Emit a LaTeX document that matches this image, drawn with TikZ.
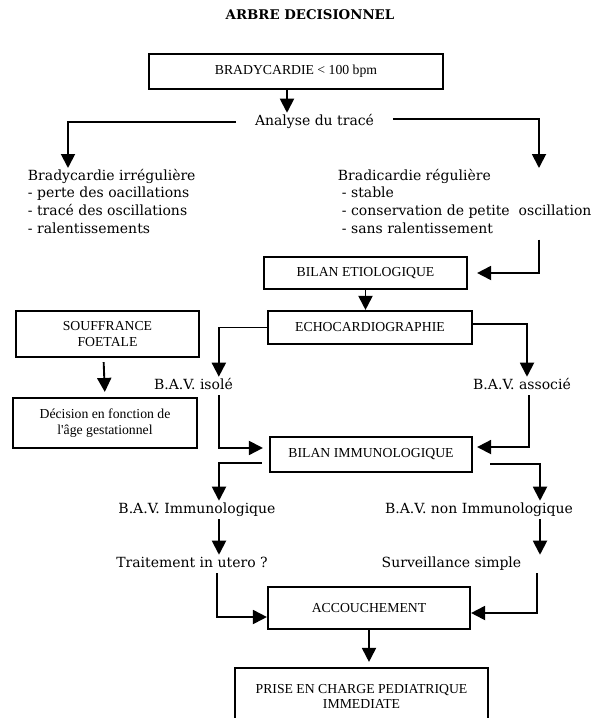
\documentclass[tikz,border=0pt]{standalone}
\usepackage{fontspec}
\setmainfont{DejaVu Serif}
\newfontfamily\boxfont{Liberation Serif}
\usetikzlibrary{arrows.meta}

\begin{document}
\begin{tikzpicture}[x=0.75pt,y=-0.75pt,>={Triangle[length=10.5pt,width=10.5pt]},line width=1.4pt,
  box/.style={draw,line width=1.6pt,align=center,inner sep=1pt,font=\boxfont\fontsize{10.3}{11.5}\selectfont},
  txt/.style={inner sep=1pt,text height=8pt,text depth=2.5pt,font=\fontsize{10.5}{12.6}\selectfont},
  blk/.style={anchor=north west,inner sep=0pt,align=left,font=\fontsize{10.5}{13.35}\selectfont}]
\useasboundingbox (0,0) rectangle (606,718);

\node[font=\bfseries\fontsize{10}{12}\selectfont] (titre) at (310,15) {ARBRE DECISIONNEL};

% boites
\node[box,minimum width=220.5pt,minimum height=26.25pt] (brady) at (296,71.5) {BRADYCARDIE < 100 bpm};
\node[box,minimum width=152.25pt,minimum height=24pt] (etio) at (365.5,273) {BILAN ETIOLOGIQUE};
\node[box,minimum width=153pt,minimum height=24.75pt] (echo) at (370,327.5) {ECHOCARDIOGRAPHIE};
\node[box,minimum width=137.25pt,minimum height=34.5pt] (souf) at (107.5,334) {SOUFFRANCE\\FOETALE};
\node[box,minimum width=138pt,minimum height=37.5pt] (dec) at (105,423) {Décision en fonction de\\l'âge gestationnel};
\node[box,minimum width=151.5pt,minimum height=26.25pt] (imm) at (371,454.5) {BILAN IMMUNOLOGIQUE};
\node[box,minimum width=151.5pt,minimum height=31.5pt] (acc) at (369,608) {ACCOUCHEMENT};
\node[box,minimum width=189.75pt,minimum height=42.75pt] (prise) at (361.5,696.5) {PRISE EN CHARGE PEDIATRIQUE\\IMMEDIATE};

% textes
\node[txt,inner xsep=13.5pt] (ana) at (314.5,122) {Analyse du tracé};
\node[blk] (irr) at (27,168) {Bradycardie irrégulière\\- perte des oacillations\\- tracé des oscillations\\- ralentissements};
\node[blk] (reg) at (337,168) {Bradicardie régulière\\\hspace{3pt}- stable\\\hspace{3pt}- conservation de petite~ oscillation\\\hspace{3pt}- sans ralentissement};
\node[txt] (iso) at (193.5,386) {B.A.V. isolé};
\node[txt] (asso) at (522,386) {B.A.V. associé};
\node[txt] (bimm) at (197,510) {B.A.V. Immunologique};
\node[txt] (bnon) at (479,510) {B.A.V. non Immunologique};
\node[txt] (trt) at (192,564) {Traitement in utero ?};
\node[txt] (surv) at (451.5,564) {Surveillance simple};

% fleches
\draw[->] ([xshift=-6.75pt]brady.south) -- ([xshift=-6.75pt]brady.south |- ana.north);
\draw[->] (ana.west) -| ([xshift=30.75pt]irr.north west);
\draw[->] ([yshift=2.25pt]ana.east) -| ([xshift=151.5pt]reg.north west);
\draw[->,shorten >=6.75pt] ([xshift=151.5pt,yshift=-3.75pt]reg.south west) |- (etio.east);
\draw[->] (etio.south) -- (etio.south |- echo.north);
\draw[->] (echo.west) -| ([xshift=19pt]iso.north);
\draw[->] ([yshift=2.6pt]echo.east) -| ([xshift=3.75pt]asso.north);
\draw[->,shorten <=3pt,shorten >=3.75pt] ([xshift=-3pt]souf.south) -- (dec.north);
\draw[->,shorten >=4.5pt] ([xshift=19pt]iso.south) |- ([yshift=4.9pt]imm.west);
\draw[->,shorten >=3pt] ([xshift=5.25pt]asso.south) |- ([yshift=5.6pt]imm.east);
\draw[->,shorten <=5.25pt] ([yshift=-6.4pt]imm.west) -| ([xshift=16.5pt]bimm.north);
\draw[->,shorten <=12.75pt] ([yshift=-7pt]imm.east) -| ([xshift=45.75pt]bnon.north);
\draw[->] ([xshift=16.5pt]bimm.south) -- ([xshift=16.5pt]bimm.south |- trt.north);
\draw[->] ([xshift=45.75pt]bnon.south) -- ([xshift=45.75pt]bnon.south |- surv.north);
\draw[->] ([xshift=18.75pt]trt.south) |- ([yshift=-6.75pt]acc.west);
\draw[->] ([xshift=64.1pt]surv.south) |- ([yshift=-3.75pt]acc.east);
\draw[->,shorten >=3.75pt] (acc.south) -- (acc.south |- prise.north);
\end{tikzpicture}
\end{document}
